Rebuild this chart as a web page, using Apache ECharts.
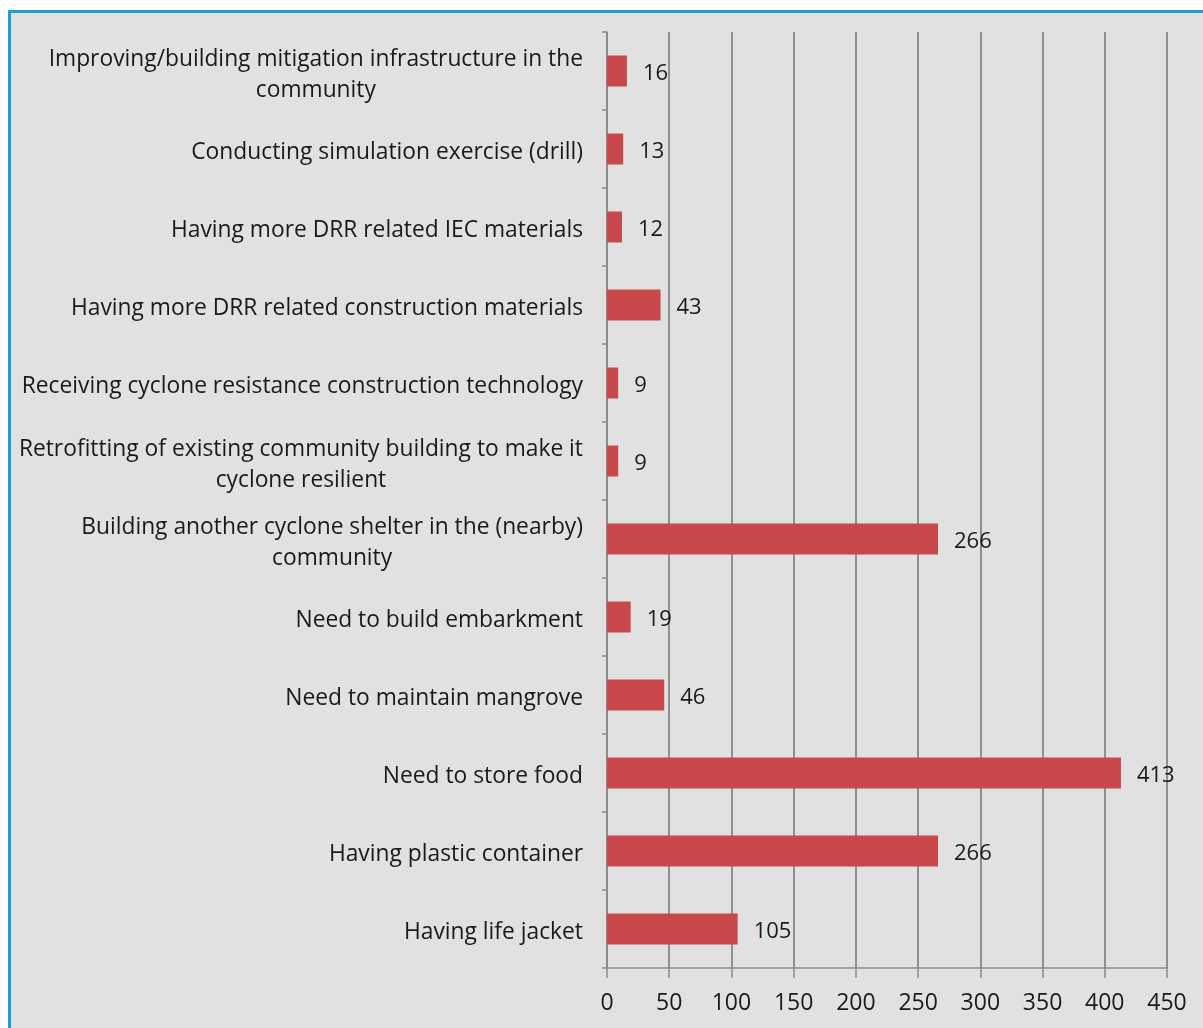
<!DOCTYPE html>
<html>
<head>
<meta charset="utf-8">
<script src="https://cdn.jsdelivr.net/npm/echarts@6/dist/echarts.min.js"></script>
<style>
  html, body { margin: 0; padding: 0; width: 1203px; height: 1028px; background: #ffffff; overflow: hidden; }
  #frame { position: absolute; left: 8px; top: 10px; right: 0; bottom: 0;
           border-left: 3px solid #1c9ed8; border-top: 3px solid #1c9ed8; background: #e1e1e1; }
  #chart { position: absolute; left: 0; top: 0; width: 1203px; height: 1028px; }
</style>
</head>
<body>
<div id="frame"></div>
<div id="chart"></div>
<script>
// Measures listed from top to bottom of the chart
const categories = [
  'Improving/building mitigation infrastructure in the\ncommunity',
  'Conducting simulation exercise (drill)',
  'Having more DRR related IEC materials',
  'Having more DRR related construction materials',
  'Receiving cyclone resistance construction technology',
  'Retrofitting of existing community building to make it\ncyclone resilient',
  'Building another cyclone shelter in the (nearby)\ncommunity',
  'Need to build embarkment',
  'Need to maintain mangrove',
  'Need to store food',
  'Having plastic container',
  'Having life jacket'
];
const counts = [16, 13, 12, 43, 9, 9, 266, 19, 46, 413, 266, 105];
const xTicks = [0, 50, 100, 150, 200, 250, 300, 350, 400, 450];

const FONT = '"Open Sans"';
const CAT_FS = 22.8;
const chart = echarts.init(document.getElementById('chart'), null, { renderer: 'canvas' });

chart.setOption({
  backgroundColor: 'transparent',
  animation: false,
  grid: { left: 607, right: 36, top: 32, bottom: 60, containLabel: false },
  xAxis: {
    type: 'value',
    min: xTicks[0],
    max: xTicks[xTicks.length - 1],
    interval: xTicks[1] - xTicks[0],
    axisLine: { show: true, lineStyle: { color: '#8c8c8c', width: 1.5 } },
    axisTick: { show: true, length: 10, lineStyle: { color: '#8c8c8c', width: 1.5 } },
    axisLabel: { color: '#1a1a1a', fontFamily: FONT, fontSize: 23, margin: 24 },
    splitLine: { show: true, lineStyle: { color: '#8f8f8f', width: 2 } }
  },
  yAxis: {
    type: 'category',
    inverse: true,
    data: categories,
    axisLine: { show: true, lineStyle: { color: '#8c8c8c', width: 1.5 } },
    axisTick: { show: true, length: 5, lineStyle: { color: '#8c8c8c', width: 1.5 } },
    axisLabel: {
      color: '#1a1a1a',
      fontFamily: FONT,
      fontSize: CAT_FS,
      margin: 24,
      lineHeight: 31,
      padding: [8, 0, 0, 0],
      formatter: function (v) {
        return v.split('\n').map(function (s) { return '{c|' + s + '}'; }).join('\n');
      },
      rich: { c: { align: 'center', fontFamily: FONT, fontSize: CAT_FS, lineHeight: 31, color: '#1a1a1a' } }
    }
  },
  series: [{
    type: 'bar',
    data: counts,
    barWidth: 31,
    itemStyle: { color: '#c8484c' },
    label: {
      show: true,
      position: 'right',
      distance: 16,
      offset: [0, 3],
      color: '#1a1a1a',
      fontFamily: FONT,
      fontSize: 22
    }
  }]
});
</script>
</body>
</html>
